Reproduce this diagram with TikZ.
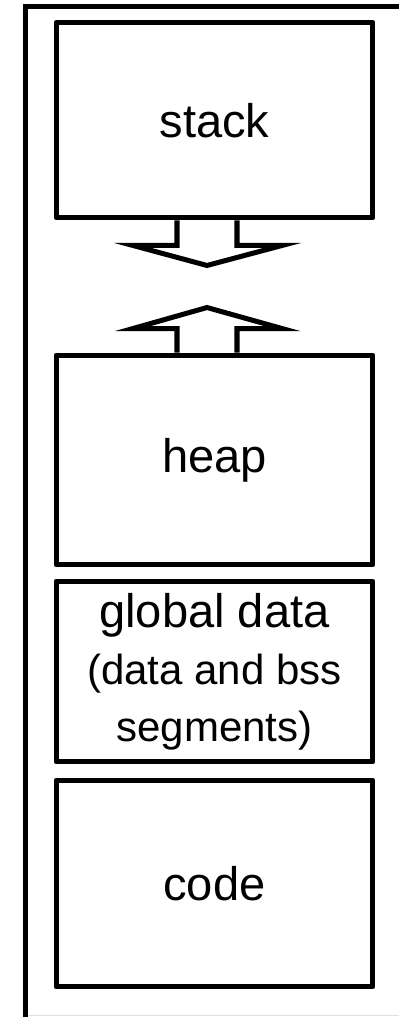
\documentclass[tikz,border=0pt]{standalone}
\usepackage{fontspec}
\setmainfont{Liberation Sans}
\usepackage{tikz}
\usetikzlibrary{calc}

\tikzset{
  segbox/.style={draw=black, line width=2.85pt, line join=round, minimum width=6.34cm,
    align=center, inner sep=0pt, font=\fontsize{26.8}{32}\selectfont},
  blockarrow/.style={draw=black, line width=2.85pt, line join=miter}
}

\begin{document}
\begin{tikzpicture}[x=0.02cm, y=-0.02cm]
   \useasboundingbox (0,0) rectangle (399,1017);

   % address space frame
   \draw[line width=2.85pt, line join=miter] (399,6.5) -- (25.5,6.5) -- (25.5,1017);
   \draw[black!12, line width=0.6pt] (28,1015.5) -- (399,1015.5);

   % memory segments
   \node[segbox, minimum height=3.91cm] (stack) at (214.5,120.25) {stack};
   \node[segbox, minimum height=4.2cm] (heap) at (214.5,460) {heap};
   \node[segbox, minimum height=3.62cm,
         font=\fontsize{23.9}{32.5}\selectfont] (global) at (214.5,671.5)
         {{\fontsize{26.8}{32.5}\selectfont global data}\\(data and bss\\segments)};
   \node[segbox, minimum height=4.14cm] (code) at (214.5,883.5) {code};

   % stack grows down, heap grows up
   \draw[blockarrow] ($(stack.south)+(-37.5,0)$) -- ++(0,25) -- ++(-44,0)
      -- ($(stack.south)+(-7.5,45)$) -- ($(stack.south)+(67.5,25)$)
      -- ++(-45,0) -- ($(stack.south)+(22.5,0)$);
   \draw[blockarrow] ($(heap.north)+(-37.5,0)$) -- ++(0,-24) -- ++(-44,0)
      -- ($(heap.north)+(-7.5,-45)$) -- ($(heap.north)+(67.5,-24)$)
      -- ++(-45,0) -- ($(heap.north)+(22.5,0)$);
\end{tikzpicture}
\end{document}
